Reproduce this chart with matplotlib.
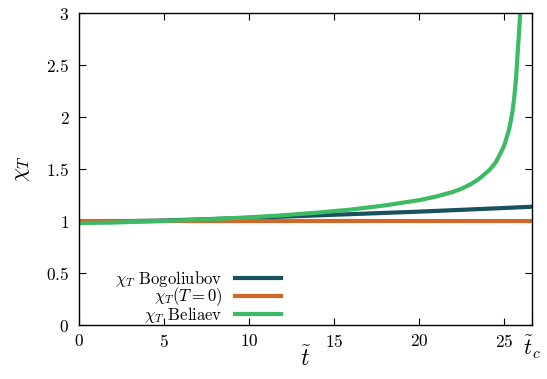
import matplotlib
matplotlib.use("Agg")
import matplotlib.pyplot as plt
import numpy as np

plt.rcParams['mathtext.fontset'] = 'cm'
plt.rcParams['font.family'] = 'serif'
plt.rcParams['font.serif'] = ['cmr10', 'DejaVu Serif']
plt.rcParams['axes.formatter.use_mathtext'] = True

t_c = 26.65

# Bogoliubov
t_bog = [0, 5, 10, 15, 20, 25, 26.65]
chi_bog = [0.99, 1.005, 1.03, 1.06, 1.09, 1.125, 1.137]

# T = 0
t_zero = [0, 26.65]
chi_zero = [1.0, 1.0]

# Beliaev
t_bel = [0, 2, 5, 8, 10, 12, 14, 16, 18, 20, 21, 22, 22.5, 23, 23.5, 24, 24.2, 24.5, 24.7, 25,
         25.1, 25.3, 25.4, 25.5, 25.6, 25.7, 25.75, 25.8, 25.85, 25.9, 25.97]
chi_bel = [0.98, 0.985, 1.0, 1.02, 1.035, 1.055, 1.08, 1.11, 1.15, 1.2, 1.235, 1.28, 1.31, 1.35, 1.4, 1.47, 1.5, 1.56, 1.62, 1.72,
           1.77, 1.88, 1.96, 2.05, 2.18, 2.35, 2.47, 2.6, 2.72, 2.85, 3.05]

xticks = [0, 5, 10, 15, 20, 25, t_c]
xticklabels = ['$0$', '$5$', '$10$', '$15$', '$20$', '$25$', r'$\tilde{t}_c$']
yticks = [0, 0.5, 1, 1.5, 2, 2.5, 3]
yticklabels = ['$0$', '$0.5$', '$1$', '$1.5$', '$2$', '$2.5$', '$3$']

fig = plt.figure(figsize=(5.47, 3.79), dpi=100)
ax = fig.add_axes([79/547, 54/379, 453/547, 312/379])

c_bog = '#17525e'
c_zero = '#d2672a'
c_bel = '#3cba64'

l1, = ax.plot(t_bog, chi_bog, color=c_bog, lw=3, label=r'$\chi_T$ Bogoliubov')
l2, = ax.plot(t_zero, chi_zero, color=c_zero, lw=3, label=r'$\chi_T(T=0)$')
l3, = ax.plot(t_bel, chi_bel, color=c_bel, lw=3, label=r'$\chi_T$ Beliaev')

ax.set_xlim(0, t_c)
ax.set_ylim(0, 3)
ax.set_xticks(xticks)
ax.set_xticklabels(xticklabels, fontsize=12.5)
ax.get_xticklabels()[-1].set_fontsize(16)
ax.set_yticks(yticks)
ax.set_yticklabels(yticklabels, fontsize=12.5)
ax.tick_params(direction='in', top=True, right=True, length=5, width=0.8)
ax.tick_params(axis='x', pad=6)
ax.tick_params(axis='y', pad=7)
for s in ax.spines.values():
    s.set_linewidth(1.0)

ax.set_xlabel(r'$\tilde{t}$', fontsize=17, va='top')
ax.xaxis.set_label_coords(0.5, -0.068)
ax.set_ylabel(r'$\chi_T$', fontsize=16, labelpad=10)

leg = ax.legend(handles=[l1, l2, l3], loc='lower right', bbox_to_anchor=(0.445, 0.0),
                frameon=False, markerfirst=False, fontsize=12, handlelength=2.75,
                handletextpad=0.75, labelspacing=-0.2, borderpad=0, borderaxespad=0)

fig.savefig('out.png', dpi=100)
